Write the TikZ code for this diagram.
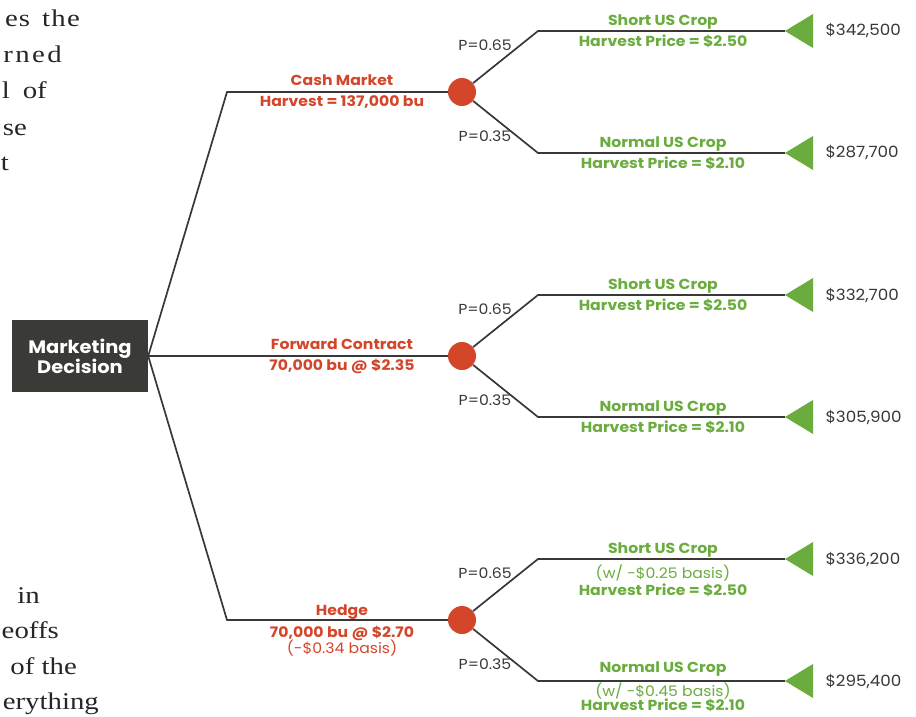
\documentclass[tikz,border=0pt]{standalone}
\usepackage{fontspec}
\setmainfont[FakeStretch=1.08]{Poppins}
\newfontfamily\bookfont[FakeStretch=1.2]{Liberation Serif}
\definecolor{treered}{HTML}{D4462A}
\definecolor{leafgreen}{HTML}{6AAC3E}
\definecolor{boxgray}{HTML}{3A3A36}
\definecolor{linegray}{HTML}{383838}

\begin{document}
\begin{tikzpicture}[x=1pt, y=-1pt,
    branch/.style={color=linegray, line width=1.7pt},
    decision/.style={fill=boxgray, text=white, font=\fontsize{18}{20}\selectfont\bfseries,
        align=center, minimum width=136pt, minimum height=72pt, inner sep=0pt},
    chance/.style={circle, fill=treered, minimum size=28pt, inner sep=0pt},
    act/.style={text=treered, font=\fontsize{14.5}{17}\selectfont\bfseries, align=center},
    crop/.style={text=leafgreen, font=\fontsize{14.5}{17}\selectfont\bfseries, align=center},
    prob/.style={text=linegray, font=\fontsize{14.5}{15}\selectfont},
    payoff/.style={text=linegray, font=\fontsize{15.5}{16}\selectfont, anchor=west},
    book/.style={text=black!85, font=\bookfont\fontsize{24}{24}\selectfont, anchor=base east, inner sep=0pt}]
    \useasboundingbox (0,0) rectangle (916,717);

    % body text cut off at the left
    \node[book] (b1) at (80,27) {\addfontfeature{LetterSpace=5}es\hspace{12pt}the};
    \node[book] (b2) at (62,63) {\addfontfeature{LetterSpace=10}rned};
    \node[book] (b3) at (47,99) {l\hspace{13pt}of};
    \node[book] (b4) at (27,135) {se};
    \node[book] (b5) at (9,170) {t};
    \node[book] (b6) at (40,603) {in};
    \node[book] (b7) at (59,638) {eoffs};
    \node[book] (b8) at (77,674) {of the};
    \node[book] (b9) at (99,709) {erything};

    % decision node and the three choices
    \node[decision] (md) at (80,356) {Marketing\\Decision};
    \coordinate (k1) at (227,92);
    \coordinate (k3) at (227,620);
    \node[chance] (c1) at (462,92) {};
    \node[chance] (c2) at (462,356) {};
    \node[chance] (c3) at (462,620) {};
    \draw[branch] (md.east) -- (k1) -- (c1);
    \draw[branch] (md.east) -- (c2);
    \draw[branch] (md.east) -- (k3) -- (c3);

    \node[act] (a1) at (342,92) {Cash Market\\[4pt]Harvest = 137,000 bu};
    \node[act] (a2) at (342,356) {Forward Contract\\[4pt]70,000 bu @ \$2.35};
    \node[act, anchor=north] (a3) at (342,601) {Hedge\\[5pt]70,000 bu @ \$2.70\\[-1pt]\mdseries(-\$0.34 basis)};

    % outcomes
    \foreach \c/\y in {1/92, 2/356, 3/620} {
        \coordinate (u\c) at (538,\y-61);
        \coordinate (d\c) at (538,\y+61);
        \coordinate (tu\c) at (785,\y-61);
        \coordinate (td\c) at (785,\y+61);
        \draw[branch] (c\c) -- (u\c) -- (tu\c);
        \draw[branch] (c\c) -- (d\c) -- (td\c);
        \fill[leafgreen] (tu\c) -- ++(28,-17) -- ++(0,34) -- cycle;
        \fill[leafgreen] (td\c) -- ++(28,-17) -- ++(0,34) -- cycle;
        \node[prob] (pu\c) at (485,\y-47) {P=0.65};
        \node[prob] (pd\c) at (485,\y+44) {P=0.35};
    }

    \node[crop] (s1) at (663,31) {Short US Crop\\[4pt]Harvest Price = \$2.50};
    \node[crop] (n1) at (663,153) {Normal US Crop\\[4pt]Harvest Price = \$2.10};
    \node[crop] (s2) at (663,295) {Short US Crop\\[4pt]Harvest Price = \$2.50};
    \node[crop] (n2) at (663,417) {Normal US Crop\\[4pt]Harvest Price = \$2.10};
    \node[crop, anchor=north] (s3) at (663,539) {Short US Crop\\[7pt]\mdseries(w/ -\$0.25 basis)\\[0pt]Harvest Price = \$2.50};
    \node[crop, anchor=north, inner sep=1pt] (n3) at (663,661) {Normal US Crop\\[5pt]\mdseries(w/ -\$0.45 basis)\\[-3pt]Harvest Price = \$2.10};

    \node[payoff] (v1) at (822,31) {\$342,500};
    \node[payoff] (v2) at (822,153) {\$287,700};
    \node[payoff] (v3) at (822,295) {\$332,700};
    \node[payoff] (v4) at (822,417) {\$305,900};
    \node[payoff] (v5) at (822,559) {\$336,200};
    \node[payoff] (v6) at (822,681) {\$295,400};
\end{tikzpicture}
\end{document}
